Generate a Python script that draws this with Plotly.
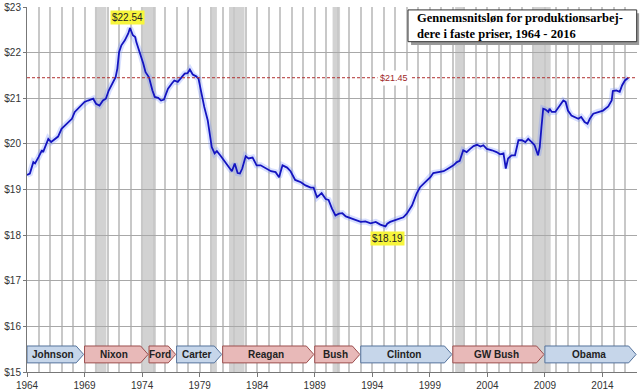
import plotly.graph_objects as go

# ---- data ----
years = [1964.0, 1964.25, 1964.55, 1964.7, 1965.0, 1965.3, 1965.4, 1965.7, 1965.85, 1966.1,
         1966.4, 1966.7, 1967.0, 1967.3, 1967.6, 1967.9, 1968.15, 1968.45, 1968.7, 1969.0,
         1969.3, 1969.6, 1969.75, 1970.0, 1970.3, 1970.6, 1970.85, 1971.1, 1971.45, 1971.7,
         1971.85, 1972.0, 1972.2, 1972.5, 1972.8, 1972.95, 1973.2, 1973.4, 1973.5, 1973.65,
         1973.85, 1974.1, 1974.3, 1974.6, 1974.9, 1975.1, 1975.4, 1975.65, 1975.9, 1976.25,
         1976.6, 1976.8, 1977.1, 1977.4, 1977.7, 1977.95, 1978.15, 1978.4, 1978.7, 1978.9,
         1979.1, 1979.4, 1979.7, 1979.9, 1980.05, 1980.3, 1980.5, 1980.85, 1981.2, 1981.6,
         1981.8, 1982.05, 1982.3, 1982.5, 1982.7, 1983.0, 1983.25, 1983.6, 1983.95, 1984.3,
         1984.75, 1985.2, 1985.6, 1985.9, 1986.2, 1986.6, 1986.9, 1987.3, 1987.8, 1988.2,
         1988.65, 1988.9, 1989.2, 1989.6, 1989.95, 1990.2, 1990.5, 1990.8, 1991.1, 1991.4,
         1991.7, 1992.1, 1992.55, 1993.0, 1993.4, 1993.85, 1994.3, 1994.7, 1995.15, 1995.3,
         1995.55, 1995.85, 1996.3, 1996.7, 1997.0, 1997.45, 1997.85, 1998.15, 1998.6, 1999.05,
         1999.3, 1999.75, 2000.2, 2000.6, 2001.05, 2001.35, 2001.6, 2001.9, 2002.2, 2002.5,
         2002.8, 2003.1, 2003.4, 2003.65, 2003.95, 2004.4, 2004.8, 2005.1, 2005.4, 2005.6,
         2005.8, 2006.1, 2006.4, 2006.7, 2007.0, 2007.3, 2007.55, 2007.85, 2008.1, 2008.4,
         2008.55, 2008.7, 2008.85, 2009.05, 2009.3, 2009.4, 2009.6, 2009.9, 2010.2, 2010.6,
         2010.8, 2011.0, 2011.3, 2011.6, 2011.9, 2012.15, 2012.45, 2012.7, 2012.9, 2013.2,
         2013.6, 2014.05, 2014.5, 2014.8, 2014.9, 2015.2, 2015.5, 2015.7, 2015.95, 2016.25]
wage = [19.32, 19.35, 19.60, 19.57, 19.71, 19.86, 19.82, 20.04, 20.11, 20.04,
        20.11, 20.16, 20.33, 20.41, 20.48, 20.55, 20.70, 20.77, 20.84, 20.92,
        20.95, 20.97, 20.99, 20.88, 20.84, 20.95, 20.99, 21.17, 21.36, 21.46,
        21.65, 22.01, 22.16, 22.27, 22.42, 22.54, 22.38, 22.34, 22.23, 22.12,
        21.98, 21.76, 21.57, 21.46, 21.17, 21.03, 21.01, 20.95, 20.97, 21.21,
        21.33, 21.39, 21.36, 21.46, 21.54, 21.55, 21.63, 21.52, 21.48, 21.43,
        21.17, 20.81, 20.52, 20.22, 19.93, 19.79, 19.84, 19.73, 19.60, 19.46,
        19.40, 19.57, 19.36, 19.35, 19.46, 19.73, 19.68, 19.70, 19.53, 19.53,
        19.46, 19.40, 19.38, 19.27, 19.53, 19.48, 19.40, 19.21, 19.16, 19.09,
        19.04, 19.04, 18.83, 18.92, 18.79, 18.77, 18.58, 18.43, 18.47, 18.48,
        18.41, 18.37, 18.32, 18.29, 18.30, 18.26, 18.29, 18.23, 18.19, 18.25,
        18.29, 18.32, 18.36, 18.39, 18.47, 18.65, 18.91, 19.05, 19.16, 19.27,
        19.36, 19.38, 19.40, 19.46, 19.53, 19.60, 19.63, 19.86, 19.82, 19.89,
        19.95, 19.98, 19.94, 19.97, 19.89, 19.86, 19.82, 19.77, 19.79, 19.46,
        19.68, 19.75, 19.75, 20.08, 20.08, 20.04, 20.11, 20.04, 19.97, 19.75,
        19.93, 20.37, 20.77, 20.75, 20.70, 20.77, 20.70, 20.70, 20.81, 20.95,
        20.92, 20.73, 20.62, 20.59, 20.55, 20.59, 20.48, 20.44, 20.55, 20.66,
        20.70, 20.73, 20.82, 20.95, 21.16, 21.17, 21.14, 21.28, 21.39, 21.45]

recession_start = [1969.9, 1973.9, 1980.0, 1981.55, 1990.55, 2001.2, 2007.9]
recession_end = [1970.9, 1975.2, 1980.5, 1982.9, 1991.2, 2001.9, 2009.5]

presidents = ["Johnson", "Nixon", "Ford", "Carter", "Reagan", "Bush", "Clinton", "GW Bush", "Obama"]
term_start = [1964.0, 1969.0, 1974.6, 1977.0, 1981.0, 1989.0, 1993.0, 2001.0, 2009.0]
term_end = [1969.0, 1974.6, 1977.0, 1981.0, 1989.0, 1993.0, 2001.0, 2009.0, 2017.0]
party = ["D", "R", "R", "D", "R", "R", "D", "R", "D"]

ref_level = 21.45
peak_year, peak_val = 1972.95, 22.54
low_year, low_val = 1995.15, 18.19

x_ticks = list(range(1964, 2015, 5))
title_text = "Gennemsnitsløn for produktionsarbej-<br>dere i faste priser, 1964 - 2016"

# ---- figure ----
fig = go.Figure()

fig.add_trace(go.Scatter(x=years, y=wage, mode="lines",
                         line=dict(color="rgba(110,140,255,0.28)", width=6),
                         hoverinfo="skip", showlegend=False))
fig.add_trace(go.Scatter(x=years, y=wage, mode="lines",
                         line=dict(color="#1414c0", width=1.8),
                         showlegend=False))

shapes = []
for s, e in zip(recession_start, recession_end):
    shapes.append(dict(type="rect", xref="x", yref="y", x0=s, x1=e, y0=15, y1=23,
                       fillcolor="#d2d2d2", line=dict(width=0), layer="below"))

# reference line
shapes.append(dict(type="line", xref="paper", yref="y", x0=0, x1=1, y0=ref_level, y1=ref_level,
                   line=dict(color="#b03030", width=1, dash="3px,2px"), layer="above"))

# president arrows
yb, yt = 15.20, 15.57
tip = 0.65
annotations = []
for name, s, e, p in zip(presidents, term_start, term_end, party):
    e2 = e - 0.08
    ym = (yb + yt) / 2
    path = f"M {s},{yb} L {e2 - tip},{yb} L {e2},{ym} L {e2 - tip},{yt} L {s},{yt} Z"
    if p == "D":
        fill, border = "#c6d6ea", "#55739c"
    else:
        fill, border = "#e8b9b8", "#9c4e4e"
    shapes.append(dict(type="path", path=path, xref="x", yref="y",
                       fillcolor=fill, line=dict(color=border, width=1), layer="above"))
    annotations.append(dict(x=(s + e2 - tip * 0.5) / 2, y=ym, xref="x", yref="y",
                            text=f"<b>{name}</b>", showarrow=False,
                            font=dict(family="Liberation Sans, Arial", size=10, color="#222222")))

# title box with shadow
bx0, bx1, by0, by1 = 0.6246, 0.9995, 0.905, 0.992
shapes.append(dict(type="rect", xref="paper", yref="paper", x0=bx0 + 0.005, x1=bx1 + 0.004,
                   y0=by0 - 0.009, y1=by1 - 0.009, fillcolor="#9a9a9a", line=dict(width=0),
                   layer="above"))
shapes.append(dict(type="rect", xref="paper", yref="paper", x0=bx0, x1=bx1, y0=by0, y1=by1,
                   fillcolor="white", line=dict(color="#333333", width=1), layer="above"))
annotations.append(dict(x=bx0 + 0.011, y=(by0 + by1) / 2, xref="paper", yref="paper",
                        xanchor="left", yanchor="middle", align="left", text=f"<b>{title_text}</b>",
                        showarrow=False,
                        font=dict(family="Liberation Serif, Times New Roman", size=12.5, color="#000000")))

# reference label
annotations.append(dict(x=1995.9, y=ref_level, xref="x", yref="y", text=f"${ref_level:.2f}",
                        showarrow=False, bgcolor="white", borderpad=2,
                        font=dict(family="Liberation Sans, Arial", size=9, color="#a02828")))
# peak / low labels
annotations.append(dict(x=1972.75, y=22.78, xref="x", yref="y", text=f"${peak_val:.2f}",
                        showarrow=False, bgcolor="#f7f53c", borderpad=1,
                        font=dict(family="Liberation Sans, Arial", size=10, color="#222222")))
annotations.append(dict(x=1995.3, y=17.93, xref="x", yref="y", text=f"${low_val:.2f}",
                        showarrow=False, bgcolor="#f7f53c", borderpad=1,
                        font=dict(family="Liberation Sans, Arial", size=10, color="#222222")))

fig.update_layout(
    width=644, height=392,
    margin=dict(l=27, r=7, t=7, b=20),
    plot_bgcolor="white", paper_bgcolor="white",
    shapes=shapes, annotations=annotations,
    showlegend=False,
    xaxis=dict(range=[1964, 2017], tickvals=x_ticks, ticktext=[str(t) for t in x_ticks],
               showgrid=True, gridcolor="#c8c8c8", gridwidth=1.5,
               minor=dict(dtick=1, showgrid=True, gridcolor="#c8c8c8", gridwidth=1.5, tick0=1964),
               ticks="outside", ticklen=4, tickcolor="#777777",
               showline=True, linecolor="#777777", linewidth=1,
               tickfont=dict(family="Liberation Sans, Arial", size=10, color="#333333"),
               zeroline=False, automargin=False),
    yaxis=dict(range=[15, 23], dtick=1, tickprefix="$", tickformat="d",
               showgrid=True, gridcolor="#a8a8a8", gridwidth=1,
               ticks="outside", ticklen=3, tickcolor="#777777",
               showline=True, linecolor="#777777", linewidth=1,
               tickfont=dict(family="Liberation Sans, Arial", size=10, color="#333333"),
               zeroline=False, automargin=False),
)

fig.write_html("out.html", config={"displayModeBar": False},
               post_script="document.body.style.margin='0';document.body.style.overflow='hidden';")
